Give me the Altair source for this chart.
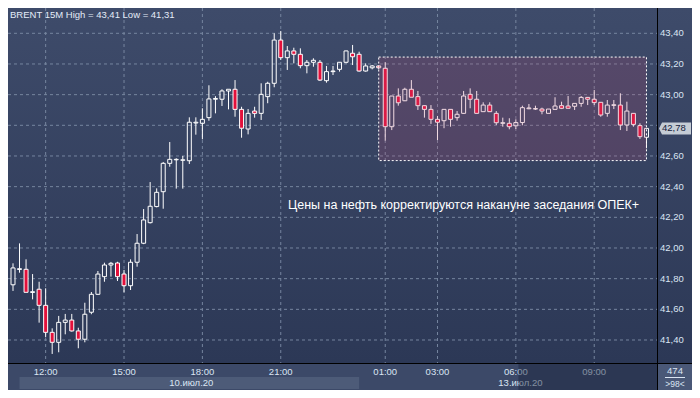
import altair as alt
import pandas as pd

# ---------------- data ----------------
opens = [41.76, 41.86, 41.861, 41.71, 41.731, 41.626, 41.45, 41.385, 41.515, 41.53,
         41.459, 41.405, 41.581, 41.698, 41.813, 41.889, 41.902, 41.83, 41.754, 41.907,
         42.031, 42.165, 42.27, 42.367, 42.552, 42.575, 42.572, 42.569, 42.815, 42.813,
         42.85, 42.97, 42.97, 43.024, 43.035, 42.904, 42.776, 42.893, 42.878, 42.987,
         43.074, 43.356, 43.241, 43.285, 43.263, 43.189, 43.211, 43.211, 43.091, 43.15,
         43.165, 43.211, 43.27, 43.263, 43.154, 43.175, 43.187, 43.172, 42.791, 42.991,
         42.96, 43.035, 42.987, 42.928, 42.904, 42.839, 42.83, 42.904, 42.85, 42.878,
         43.002, 42.97, 42.889, 42.932, 42.878, 42.813, 42.813, 42.797, 42.818, 42.908,
         42.906, 42.906, 42.878, 42.904, 42.928, 42.926, 42.924, 42.943, 42.982, 42.97,
         42.95, 42.878, 42.93, 42.932, 42.802, 42.878, 42.798, 42.722]
highs = [41.90, 42.03, 41.926, 41.83, 41.78, 41.737, 41.476, 41.557, 41.57, 41.57,
         41.48, 41.643, 41.713, 41.85, 41.904, 41.909, 41.91, 41.857, 41.926, 42.091,
         42.254, 42.43, 42.389, 42.561, 42.691, 42.585, 42.60, 42.852, 42.852, 42.911,
         43.061, 42.99, 43.035, 43.035, 43.095, 42.921, 42.906, 42.921, 43.074, 43.084,
         43.40, 43.415, 43.317, 43.306, 43.302, 43.226, 43.237, 43.226, 43.187, 43.187,
         43.213, 43.287, 43.324, 43.28, 43.204, 43.193, 43.19, 43.211, 42.991, 43.041,
         43.045, 43.095, 43.024, 42.93, 42.932, 42.861, 42.904, 42.905, 42.893, 43.024,
         43.041, 43.024, 42.95, 42.95, 42.893, 42.85, 42.846, 42.839, 42.928, 42.939,
         42.928, 42.915, 42.906, 42.983, 42.954, 42.991, 42.943, 42.991, 42.985, 43.03,
         42.952, 42.965, 42.965, 43.009, 42.954, 42.88, 42.813, 42.78]
lows = [41.72, 41.839, 41.71, 41.665, 41.513, 41.418, 41.309, 41.32, 41.437, 41.455,
        41.346, 41.385, 41.568, 41.695, 41.78, 41.813, 41.785, 41.711, 41.726, 41.878,
        42.025, 42.16, 42.265, 42.256, 42.53, 42.387, 42.387, 42.548, 42.739, 42.709,
        42.83, 42.878, 42.926, 42.904, 42.856, 42.719, 42.741, 42.85, 42.835, 42.944,
        43.048, 43.226, 43.161, 43.204, 43.172, 43.139, 43.182, 43.089, 43.078, 43.128,
        43.15, 43.204, 43.193, 43.15, 43.15, 43.165, 43.165, 42.70, 42.769, 42.928,
        42.958, 42.983, 42.90, 42.85, 42.809, 42.704, 42.781, 42.791, 42.83, 42.875,
        42.911, 42.878, 42.889, 42.889, 42.802, 42.791, 42.774, 42.776, 42.80, 42.905,
        42.90, 42.872, 42.878, 42.903, 42.906, 42.911, 42.90, 42.921, 42.932, 42.932,
        42.856, 42.856, 42.906, 42.769, 42.763, 42.791, 42.711, 42.65]
closes = [41.87, 41.865, 41.711, 41.715, 41.626, 41.45, 41.385, 41.515, 41.53, 41.459,
          41.405, 41.568, 41.698, 41.83, 41.889, 41.90, 41.813, 41.754, 41.907, 42.031,
          42.183, 42.272, 42.363, 42.552, 42.578, 42.578, 42.575, 42.82, 42.82, 42.839,
          42.972, 42.975, 43.024, 43.035, 42.904, 42.781, 42.878, 42.878, 43.002, 43.074,
          43.356, 43.241, 43.285, 43.263, 43.189, 43.211, 43.224, 43.095, 43.15, 43.154,
          43.211, 43.285, 43.247, 43.154, 43.187, 43.187, 43.175, 42.791, 42.991, 42.947,
          43.035, 42.983, 42.928, 42.904, 42.839, 42.82, 42.904, 42.839, 42.872, 42.991,
          42.97, 42.878, 42.932, 42.889, 42.817, 42.817, 42.791, 42.818, 42.915, 42.913,
          42.909, 42.893, 42.906, 42.926, 42.911, 42.911, 42.943, 42.982, 42.97, 42.948,
          42.867, 42.932, 42.934, 42.802, 42.893, 42.806, 42.726, 42.78]

time_ticks = [5, 17, 29, 41, 57, 65, 77, 89]
time_labels = ["12:00", "15:00", "18:00", "21:00", "01:00", "03:00", "06:00", "09:00"]
price_ticks = [41.4, 41.6, 41.8, 42.0, 42.2, 42.4, 42.6, 42.8, 43.0, 43.2, 43.4]
day_labels = ["10.июл.20", "13.июл.20"]
day_label_pos = [27.3, 77.7]
day_band_start = [1]
day_band_end = [53]
zone_x = [56, 97]
zone_y = [42.57, 43.245]
last_price = 42.78
title_text = "BRENT 15M High = 43,41 Low = 41,31"
note_text = "Цены на нефть корректируются накануне заседания ОПЕК+"
count_total = "474"
count_visible = ">98<"

# ---------------- styling ----------------
BORDER = "#c2ccd8"
BG_TOP = "#3e4b6a"
BG_BOT = "#2c3856"
BAND = "#3c4968"
DAYBAND = "#4d5b78"
GRID = "#76859f"
LABEL = "#dbe5f3"
RED = "#e3103b"
FONT = "Liberation Sans"

W, H = 650, 355          # plot area
TW, TH = 684, 382        # whole chart (fits the 700px page with its 8px margins)
n = len(opens)
df = pd.DataFrame({"i": list(range(n)), "open": opens, "high": highs,
                   "low": lows, "close": closes})
df["top"] = df[["open", "close"]].max(axis=1)
df["bot"] = df[["open", "close"]].min(axis=1)

xs = alt.Scale(domain=[0, 98], nice=False, zero=False)
ys = alt.Scale(domain=[41.25, 43.565], nice=False, zero=False)


def X(f):
    return alt.X(f, type="quantitative", scale=xs, axis=None)


def Y(f):
    return alt.Y(f, type="quantitative", scale=ys, axis=None)


one = alt.Data(values=[{"k": 0}])

bg = alt.Chart(one).mark_rect(
    fill=alt.LinearGradient(gradient="linear",
                            stops=[alt.GradientStop(color=BG_TOP, offset=0),
                                   alt.GradientStop(color=BG_BOT, offset=1)],
                            x1=0, x2=0, y1=0, y2=1)
).encode(x=alt.value(0), x2=alt.value(TW), y=alt.value(0), y2=alt.value(H))

band = alt.Chart(one).mark_rect(fill=BAND).encode(
    x=alt.value(0), x2=alt.value(W), y=alt.value(H), y2=alt.value(TH))

dayband = alt.Chart(pd.DataFrame({"s": day_band_start, "e": day_band_end})).mark_rect(
    fill=DAYBAND).encode(x=X("s"), x2="e", y=alt.value(369), y2=alt.value(381))

pdf = pd.DataFrame({"p": price_ticks,
                    "lab": [f"{p:.2f}".replace(".", ",") for p in price_ticks]})
pdf_lab = pdf[(pdf["p"] - last_price).abs() > 0.06]
tdf = pd.DataFrame({"t": time_ticks, "lab": time_labels})

hgrid = alt.Chart(pdf).mark_rule(color=GRID, strokeDash=[3, 3], strokeWidth=1).encode(
    y=Y("p"), x=alt.value(0), x2=alt.value(W))
vgrid = alt.Chart(tdf).mark_rule(color=GRID, strokeDash=[3, 3], strokeWidth=1).encode(
    x=X("t"), y=alt.value(0), y2=alt.value(H))

base = alt.Chart(df)
wick_up = base.mark_rule(color="white", strokeWidth=1).encode(x=X("i"), y=Y("high"), y2="top")
wick_dn = base.mark_rule(color="white", strokeWidth=1).encode(x=X("i"), y=Y("bot"), y2="low")
body = base.mark_bar(size=4, stroke="white", strokeWidth=1).encode(
    x=X("i"), y=Y("open"), y2="close",
    fill=alt.condition("datum.close >= datum.open", alt.value("transparent"), alt.value(RED)))

zdf = pd.DataFrame({"x0": [zone_x[0]], "x1": [zone_x[1]], "y0": [zone_y[0]], "y1": [zone_y[1]]})
zone = alt.Chart(zdf).mark_rect(fill="#c04a72", fillOpacity=0.2, stroke="white",
                                strokeDash=[2, 2], strokeWidth=1).encode(
    x=X("x0"), x2="x1", y=Y("y0"), y2="y1")

vline = alt.Chart(one).mark_rule(color="black", strokeWidth=1).encode(
    x=alt.value(W - 0.5), y=alt.value(0), y2=alt.value(TH))
hline = alt.Chart(one).mark_rule(color="black", strokeWidth=1).encode(
    y=alt.value(H + 0.5), x=alt.value(0), x2=alt.value(TW))

ylab = alt.Chart(pdf_lab).mark_text(align="left", baseline="middle", color=LABEL,
                                    font=FONT, fontSize=9.5).encode(
    y=Y("p"), x=alt.value(652), text="lab:N")
xlab = alt.Chart(tdf).mark_text(align="center", baseline="middle", color=LABEL,
                                font=FONT, fontSize=9.5).encode(
    x=X("t"), y=alt.value(363.5), text="lab:N")
dlab = alt.Chart(pd.DataFrame({"d": day_labels, "x": day_label_pos})).mark_text(
    align="center", baseline="middle", color=LABEL, font=FONT, fontSize=9.5).encode(
    x=X("x"), y=alt.value(374.5), text="d:N")

shade = alt.Chart(pd.DataFrame({"s": [77.4]})).mark_rect(fill="#18223a", opacity=0.45).encode(
    x=X("s"), x2=alt.value(W), y=alt.value(H + 1), y2=alt.value(TH))

lp = pd.DataFrame({"p": [last_price], "lab": [f"{last_price:.2f}".replace(".", ",")]})
tag = alt.Chart(lp).mark_point(
    shape="M-1,0L-0.81,-0.375L1,-0.375L1,0.375L-0.81,0.375Z", size=1024,
    filled=True, fill="#c5ccd5", opacity=1, strokeWidth=0).encode(
    x=alt.value(667), y=Y("p"))
tagtxt = alt.Chart(lp).mark_text(align="left", baseline="middle", color="#14203a",
                                 font=FONT, fontSize=9.5).encode(
    x=alt.value(654), y=Y("p"), text="lab:N")

cbox = alt.Chart(one).mark_rect(fill="#4a5877").encode(
    x=alt.value(W), x2=alt.value(TW), y=alt.value(H + 1), y2=alt.value(TH))
ctot = alt.Chart(pd.DataFrame({"t": [count_total]})).mark_text(
    align="center", baseline="middle", color=LABEL, font=FONT, fontSize=9.5).encode(
    x=alt.value(667), y=alt.value(363), text="t:N")
csep = alt.Chart(one).mark_rule(color=LABEL, strokeWidth=1).encode(
    x=alt.value(657), x2=alt.value(677), y=alt.value(369.5))
cvis = alt.Chart(pd.DataFrame({"t": [count_visible]})).mark_text(
    align="center", baseline="middle", color=LABEL, font=FONT, fontSize=8.5).encode(
    x=alt.value(667), y=alt.value(376), text="t:N")

title = alt.Chart(pd.DataFrame({"t": [title_text]})).mark_text(
    align="left", baseline="middle", color="#e4ecf8", font=FONT, fontSize=9.5).encode(
    x=alt.value(2), y=alt.value(7), text="t:N")
note = alt.Chart(pd.DataFrame({"t": [note_text]})).mark_text(
    align="left", baseline="middle", color="white", font=FONT, fontSize=12.5).encode(
    x=alt.value(280), y=alt.value(197), text="t:N")

chart = alt.layer(
    bg, band, dayband, hgrid, vgrid, wick_up, wick_dn, body, zone,
    xlab, dlab, shade, vline, hline, ylab, tag, tagtxt,
    cbox, ctot, csep, cvis, title, note
).properties(
    width=W, height=H, background=BORDER,
    padding={"left": 0, "top": 0, "right": TW - W, "bottom": TH - H},
    autosize=alt.AutoSizeParams(type="none")
).configure_view(stroke=None)

chart.save("out.html", embed_options={"renderer": "svg", "actions": False})
